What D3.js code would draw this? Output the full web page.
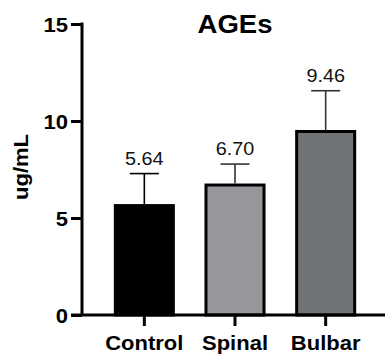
<!DOCTYPE html>
<html>
<head>
<meta charset="utf-8">
<script src="https://cdn.jsdelivr.net/npm/d3@7"></script>
<style>
  body { margin: 0; background: #fff; }
  text { font-family: "Liberation Sans", Arial, sans-serif; }
</style>
</head>
<body>
<div id="chart"></div>
<script>
// data
var groups = ["Control", "Spinal", "Bulbar"];
var means = [5.64, 6.70, 9.46];
var errTops = [7.29, 7.78, 11.56];
var yTicks = [0, 5, 10, 15];
var colors = ["#000000", "#96979b", "#717476"];

var width = 385, height = 354;
var stretch = 1.1; // the original text is a bit wider than Arial

var svg = d3.select("#chart")
    .append("svg")
    .attr("width", width)
    .attr("height", height);

// scales
var y = d3.scaleLinear()
    .domain([0, 15])
    .range([315, 24]);

var x = d3.scaleBand()
    .domain(groups)
    .range([99, 371])
    .paddingInner(0.36)
    .paddingOuter(0.18);

// bars
svg.selectAll("rect.bar")
    .data(groups)
    .enter()
    .append("rect")
    .attr("class", "bar")
    .attr("x", d => x(d))
    .attr("y", (d, i) => y(means[i]))
    .attr("width", x.bandwidth())
    .attr("height", (d, i) => y(0) - y(means[i]))
    .style("fill", (d, i) => colors[i])
    .style("stroke", "#000")
    .style("stroke-width", 3);

// error bars (upper only)
var eb = svg.selectAll("g.err")
    .data(groups)
    .enter()
    .append("g")
    .attr("class", "err")
    .style("stroke", (d, i) => i == 0 ? "#000" : "#333")
    .style("stroke-width", 1.6);

eb.append("line")
    .attr("x1", d => x(d) + x.bandwidth() / 2)
    .attr("x2", d => x(d) + x.bandwidth() / 2)
    .attr("y1", (d, i) => y(means[i]) - 1.5)
    .attr("y2", (d, i) => y(errTops[i]));

eb.append("line")
    .attr("x1", d => x(d) + x.bandwidth() / 2 - 14.5)
    .attr("x2", d => x(d) + x.bandwidth() / 2 + 14.5)
    .attr("y1", (d, i) => y(errTops[i]))
    .attr("y2", (d, i) => y(errTops[i]));

// value labels
svg.selectAll("text.val")
    .data(groups)
    .enter()
    .append("text")
    .attr("class", "val")
    .attr("text-anchor", "middle")
    .attr("transform", (d, i) => "translate(" + (x(d) + x.bandwidth() / 2) + "," + (y(errTops[i]) - 9) + ") scale(" + stretch + ",1)")
    .style("font-size", "18px")
    .style("fill", "#111")
    .text((d, i) => means[i].toFixed(2));

// Y axis
var yAxis = svg.append("g")
    .attr("transform", "translate(82,0)")
    .call(d3.axisLeft(y).tickValues(yTicks).tickSize(11).tickPadding(3));

yAxis.select(".domain")
    .attr("d", "M0," + (y(15) - 1.5) + "V" + y(0))
    .style("stroke-width", 3);
yAxis.selectAll(".tick line").style("stroke-width", 3);
yAxis.selectAll(".tick text")
    .attr("x", -14 / stretch)
    .attr("dy", "0.36em")
    .attr("transform", "scale(" + stretch + ",1)")
    .style("font-size", "20px")
    .style("font-weight", "bold")
    .style("fill", "#000");

// X axis
var xAxis = svg.append("g")
    .attr("transform", "translate(0," + y(0) + ")")
    .call(d3.axisBottom(x).tickSize(11));

xAxis.select(".domain")
    .attr("d", "M71,0H385")
    .style("stroke-width", 3);
xAxis.selectAll(".tick line").style("stroke-width", 3);
xAxis.selectAll(".tick text")
    .attr("y", 35)
    .attr("dy", null)
    .attr("transform", "scale(" + stretch + ",1)")
    .style("font-size", "20px")
    .style("font-weight", "bold")
    .style("fill", "#000");

// title
svg.append("text")
    .attr("transform", "translate(235,33) scale(" + stretch + ",1)")
    .attr("text-anchor", "middle")
    .style("font-size", "25px")
    .style("font-weight", "bold")
    .text("AGEs");

// Y label
svg.append("text")
    .attr("transform", "translate(28,167) rotate(-90) scale(" + stretch + ",1)")
    .attr("text-anchor", "middle")
    .style("font-size", "20px")
    .style("font-weight", "bold")
    .text("ug/mL");
</script>
</body>
</html>
